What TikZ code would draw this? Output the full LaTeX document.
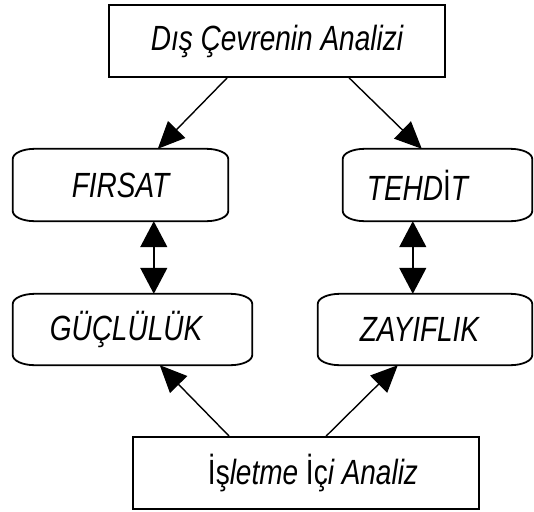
\documentclass[tikz,border=0pt]{standalone}
\usepackage{fontspec}
\setmainfont[FakeStretch=0.8]{Liberation Sans}
\usetikzlibrary{arrows.meta}
\tikzset{
  plainbox/.style={draw, line width=1.8pt, inner sep=0pt, font=\fontsize{35}{40}\selectfont\itshape},
  ovalnode/.style={inner sep=0pt, font=\fontsize{35}{40}\selectfont\itshape},
  conn/.style={line width=1.4pt, -{Triangle[length=27pt,width=24pt]}},
  dconn/.style={line width=1.4pt, {Triangle[length=26pt,width=27pt]}-{Triangle[length=26pt,width=27pt]}},
  ovalline/.style={line width=1.8pt}
}
\newcommand\ovaloutline[1]{%
  \draw[ovalline] ([xshift=22pt]#1.north west) -- ([xshift=-22pt]#1.north east)
    arc[start angle=90,end angle=0,x radius=22pt,y radius=10pt]
    -- ([yshift=10pt]#1.south east)
    arc[start angle=0,end angle=-90,x radius=22pt,y radius=10pt]
    -- ([xshift=22pt]#1.south west)
    arc[start angle=270,end angle=180,x radius=22pt,y radius=10pt]
    -- ([yshift=-10pt]#1.north west)
    arc[start angle=180,end angle=90,x radius=22pt,y radius=10pt] -- cycle;}
\begin{document}
\begin{tikzpicture}[x=1pt,y=-1pt]
\useasboundingbox (0,0) rectangle (534,511);
\node[plainbox, minimum width=336pt, minimum height=72pt] (dis) at (277,41) {Dış Çevrenin Analizi};
\node[ovalnode, minimum width=215pt, minimum height=72pt] (firsat) at (120.5,185) {FIRSAT};
\node[ovalnode, minimum width=189pt, minimum height=72pt] (tehdit) at (437.5,185) {\hspace*{-40pt}TEHD{\upshape İ}T};
\node[ovalnode, minimum width=239pt, minimum height=71pt] (guc) at (132.5,329.5) {\hspace*{-13pt}GÜÇLÜLÜK};
\node[ovalnode, minimum width=214pt, minimum height=71pt] (zay) at (425,329.5) {\hspace*{-11pt}ZAYIFLIK};
\node[plainbox, minimum width=346pt, minimum height=72pt] (ic) at (306,473) {\hspace*{14pt}{\upshape İş}letme {\upshape İç}i Analiz};
\ovaloutline{firsat}
\ovaloutline{tehdit}
\ovaloutline{guc}
\ovaloutline{zay}
\draw[conn] ([xshift=119pt]dis.south west) -- ([xshift=145pt]firsat.north west);
\draw[conn] ([xshift=241pt]dis.south west) -- ([xshift=79pt]tehdit.north west);
\draw[conn] ([xshift=97pt]ic.north west) -- ([xshift=147pt]guc.south west);
\draw[conn] ([xshift=194pt]ic.north west) -- ([xshift=80pt]zay.south west);
\draw[dconn] ([xshift=141pt]firsat.south west) -- ([xshift=141pt]guc.north west);
\draw[dconn] ([xshift=70pt]tehdit.south west) -- ([xshift=95pt]zay.north west);
\end{tikzpicture}
\end{document}
